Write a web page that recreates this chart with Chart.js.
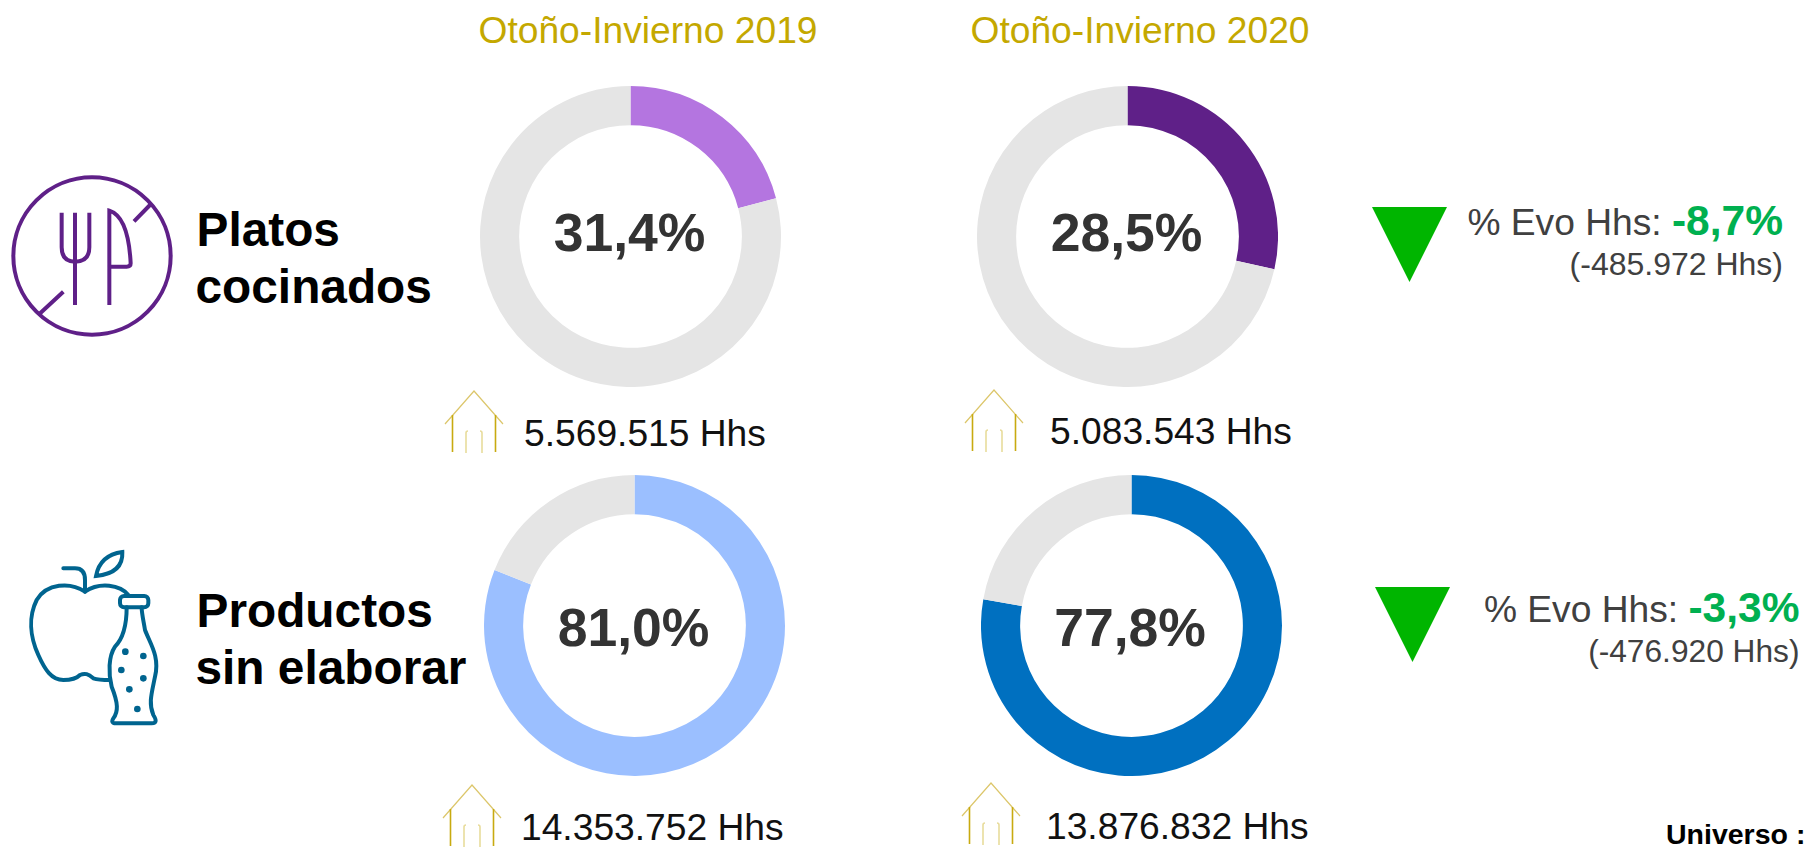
<!DOCTYPE html>
<html lang="es">
<head>
<meta charset="utf-8">
<title>Platos cocinados y productos sin elaborar</title>
<script src="https://cdn.jsdelivr.net/npm/chart.js@4"></script>
<style>
    html, body { margin: 0; padding: 0; background: #fff; overflow: hidden; }
    #page { position: relative; width: 1806px; height: 848px; overflow: hidden; font-family: "Liberation Sans", Arial, sans-serif; }
    #page canvas, #page svg { position: absolute; }
    .txt { position: absolute; white-space: pre; line-height: 1.117; }
    .house { fill: none; stroke: #dcc66a; stroke-width: 1.2; }
    .house .wall { stroke: #c8aa10; stroke-width: 1.6; }
    .house .door { stroke: #e8dc9c; stroke-width: 1.6; }
</style>
</head>
<body>
<div id="page">
    <!-- Platos cocinados -->
    <svg style="left:0;top:160px" width="190" height="190" viewBox="0 0 570 570" fill="none" stroke="#5f2088" stroke-width="12">
        <circle cx="276" cy="288" r="236"/>
        <path d="M118 462 L190 395 M402 184 L450 135"/>
        <path d="M185 158 V262 Q185 305 225 305 Q268 305 268 262 V158 M225 158 V435"/>
        <path d="M328 435 V152 Q385 170 392 310 Q392 320 380 320 H328"/>
    </svg>
    <!-- Productos sin elaborar -->
    <svg style="left:10px;top:530px" width="170" height="210" viewBox="0 0 510 630" fill="none" stroke="#00648f" stroke-width="12" stroke-linecap="round">
        <path d="M160 115 H195 Q225 115 225 150 V185"/>
        <path d="M258 138 Q270 75 337 66 Q340 130 258 138 Z"/>
        <path d="M355 195 C330 165 270 155 225 185 C180 155 110 160 80 210 C55 260 60 320 85 375 C105 420 125 450 160 450 C185 450 200 445 210 435 C225 428 235 432 250 445 C265 450 285 450 300 450"/>
        <rect x="330" y="198" width="85" height="34" rx="12"/>
        <path d="M350 232 C350 290 335 330 315 350 C295 380 295 430 305 470 C325 520 325 545 310 565 C300 580 315 580 320 580 H425 C440 580 440 570 430 555 C415 520 425 490 435 440 C450 380 420 340 405 300 C400 270 395 250 395 232"/>
        <g fill="#00648f" stroke="none">
            <circle cx="346" cy="365" r="10"/><circle cx="400" cy="378" r="10"/><circle cx="334" cy="420" r="10"/>
            <circle cx="400" cy="445" r="10"/><circle cx="358" cy="478" r="10"/><circle cx="382" cy="537" r="10"/>
        </g>
    </svg>
</div>
<script>
    var seasons = ['Otoño-Invierno 2019', 'Otoño-Invierno 2020'];
    var rowNames = [['Platos', 'cocinados'], ['Productos', 'sin elaborar']];

    // arc shares, the first ring is drawn shorter than its printed label
    var shares = [20.9, 28.5, 81.0, 77.8];
    var shareLabels = ['31,4%', '28,5%', '81,0%', '77,8%'];
    var households = ['5.569.515 Hhs', '5.083.543 Hhs', '14.353.752 Hhs', '13.876.832 Hhs'];
    var ringColors = ['#b475e0', '#5f2088', '#9bbfff', '#0070c0'];
    var evoPercent = ['-8,7%', '-3,3%'];
    var evoHouseholds = ['(-485.972 Hhs)', '(-476.920 Hhs)'];

    var page = document.getElementById('page');

    // places one text by its baseline, align is left, center or right of x
    function put(text, x, baseline, size, color, weight, align) {
        var el = document.createElement('div');
        el.className = 'txt';
        el.textContent = text;
        el.style.top = (baseline + 1.5 - 0.905 * size) + 'px';
        el.style.fontSize = size + 'px';
        el.style.color = color;
        el.style.fontWeight = weight || 'normal';
        el.style.left = x + 'px';
        if (align == 'center') el.style.transform = 'translateX(-50%)';
        if (align == 'right') el.style.transform = 'translateX(-100%)';
        page.appendChild(el);
        return el;
    }

    // House icon, x is the apex
    function house(x, y) {
        var ns = 'http://www.w3.org/2000/svg';
        var svg = document.createElementNS(ns, 'svg');
        svg.setAttribute('class', 'house');
        svg.setAttribute('width', 64);
        svg.setAttribute('height', 66);
        svg.setAttribute('viewBox', '-32 -2 64 66');
        svg.style.left = (x - 32) + 'px';
        svg.style.top = (y - 2) + 'px';
        svg.innerHTML = '<path d="M-29 33 L0 0 L29 33"/>' +
            '<path class="wall" d="M-21.5 24 V61 M21.5 24 V61"/>' +
            '<path class="door" d="M-8 62 V42 Q-8 40 -6 40 M8 62 V42 Q8 40 6 40"/>';
        page.appendChild(svg);
    }

    function triangle(x, y) {
        var ns = 'http://www.w3.org/2000/svg';
        var svg = document.createElementNS(ns, 'svg');
        svg.setAttribute('width', 76);
        svg.setAttribute('height', 76);
        svg.style.left = x + 'px';
        svg.style.top = y + 'px';
        svg.innerHTML = '<polygon points="0,0 75,0 37.5,75" fill="#00b500"/>';
        page.appendChild(svg);
    }

    // Rings
    var ringLeft = [480, 977, 484, 981];
    var ringTop = [86, 86, 475, 475];
    for (var i = 0; i < shares.length; i++) {
        var canvas = document.createElement('canvas');
        canvas.style.left = ringLeft[i] + 'px';
        canvas.style.top = ringTop[i] + 'px';
        page.appendChild(canvas);
        canvas.width = 301;
        canvas.height = 301;
        new Chart(canvas.getContext('2d'), {
            type: 'doughnut',
            data: {
                labels: ['Compradores', 'Resto'],
                datasets: [{
                    data: [shares[i], 100 - shares[i]],
                    backgroundColor: [ringColors[i], '#e5e5e5'],
                    borderWidth: 0
                }]
            },
            options: {
                responsive: false,
                animation: false,
                cutout: '74%',
                plugins: { legend: { display: false }, tooltip: { enabled: false } }
            }
        });
    }

    // Texts
    put(seasons[0], 478.5, 42.5, 37.2, '#c4a800');
    put(seasons[1], 970.5, 42.5, 37.2, '#c4a800');

    put(rowNames[0][0], 196.5, 245, 47.8, '#000', 'bold');
    put(rowNames[0][1], 195.5, 302, 47.8, '#000', 'bold');
    put(rowNames[1][0], 196.5, 626, 47.8, '#000', 'bold');
    put(rowNames[1][1], 195.5, 683, 47.8, '#000', 'bold');

    put(shareLabels[0], 629.5, 250, 53.5, '#333', 'bold', 'center');
    put(shareLabels[1], 1126.5, 250, 53.5, '#333', 'bold', 'center');
    put(shareLabels[2], 633.5, 645, 53.5, '#333', 'bold', 'center');
    put(shareLabels[3], 1130, 645, 53.5, '#333', 'bold', 'center');

    put(households[0], 524, 445, 37.2, '#111');
    put(households[1], 1050, 443, 37.2, '#111');
    put(households[2], 521, 839, 37.2, '#111');
    put(households[3], 1046, 838, 37.2, '#111');

    house(473.5, 391);
    house(993.5, 390);
    house(472, 785);
    house(991, 783);

    triangle(1372, 206.5);
    triangle(1375, 587);

    var evoRight = [1783, 1799.5];
    var evoBase = [234, 621];
    var subBase = [274, 661];
    var subSize = [32, 31.7];
    for (var j = 0; j < evoPercent.length; j++) {
        var bold = put(evoPercent[j], evoRight[j], evoBase[j], 42.5, '#00b050', 'bold', 'right');
        put('% Evo Hhs: ', evoRight[j] - bold.offsetWidth, evoBase[j], 37.2, '#404040', 'normal', 'right');
        put(evoHouseholds[j], evoRight[j], subBase[j], subSize[j], '#404040', 'normal', 'right');
    }

    put('Universo :', 1666, 843, 28.5, '#000', 'bold');
</script>
</body>
</html>
